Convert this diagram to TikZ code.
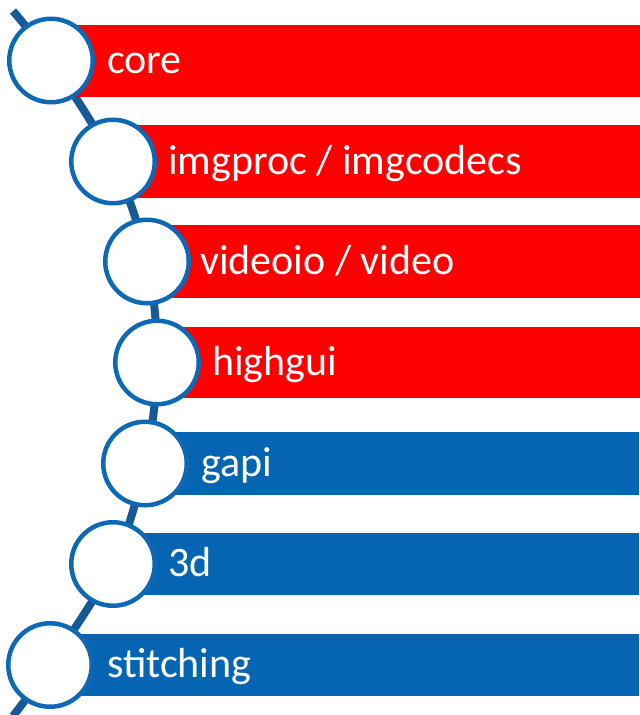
\documentclass[tikz,border=0pt]{standalone}
\usepackage{fontspec}
\setmainfont{Carlito}
\definecolor{barred}{HTML}{FF0000}
\definecolor{barblue}{HTML}{0665B2}
\definecolor{ringblue}{HTML}{0D69B4}
\definecolor{spine}{HTML}{175997}
\begin{document}
\begin{tikzpicture}[x=1pt,y=-1pt,
  ring/.style={circle,draw=ringblue,line width=4.5pt,fill=white,minimum size=83.5pt,inner sep=0pt},
  lbl/.style={anchor=base west,text=white,inner sep=0pt,font=\fontsize{42}{50}\selectfont},
  spineline/.style={draw=spine,line width=8pt}]
\useasboundingbox (0,0) rectangle (640,715);
% spine curve
\coordinate (top) at (13,11);
\coordinate (bot) at (13,716);
\draw[spineline] plot[smooth,tension=0.6] coordinates {(13,11) (51,60.5) (113,161.5) (147,261.5) (157,362.5) (145,463.5) (113,564) (50,665) (13,716)};
% bars
\fill[barred]  (51,25)  rectangle (640,96.5);
\fill[barred]  (113,125) rectangle (640,198);
\fill[barred]  (147,225) rectangle (640,298);
\fill[barred]  (157,327) rectangle (640,398);
\fill[barblue] (145,432) rectangle (639,495);
\fill[barblue] (113,533) rectangle (639,595);
\fill[barblue] (50,634)  rectangle (639,696);
% rings
\node[ring] (c1) at (51,60.5) {};
\node[ring] (c2) at (113,161.5) {};
\node[ring] (c3) at (147,261.5) {};
\node[ring] (c4) at (157,362.5) {};
\node[ring] (c5) at (145,463.5) {};
\node[ring] (c6) at (113,564) {};
\node[ring] (c7) at (50,665) {};
% labels
\node[lbl] (t1) at (107,73) {core};
\node[lbl] (t2) at (168,174) {imgproc / imgcodecs};
\node[lbl] (t3) at (200,274) {videoio / video};
\node[lbl] (t4) at (212,375) {highgui};
\node[lbl] (t5) at (201,476) {gapi};
\node[lbl] (t6) at (168,576.5) {3d};
\node[lbl] (t7) at (107,677.5) {stitching};
\end{tikzpicture}
\end{document}
